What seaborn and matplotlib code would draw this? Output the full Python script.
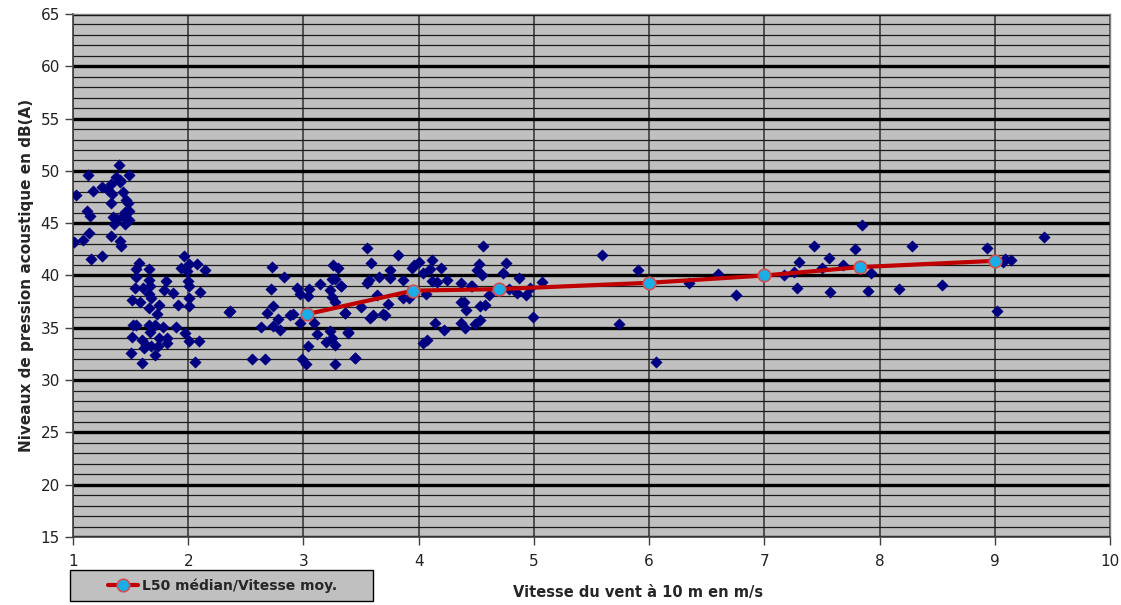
import matplotlib
matplotlib.use("Agg")
from matplotlib import pyplot as plt
from matplotlib.patches import Rectangle
from matplotlib.ticker import MultipleLocator
import numpy as np
import pandas as pd
import seaborn as sns

# wind speed (m/s) / L50 level (dB(A)) of the individual samples
vitesse = [
    1.40, 1.13, 1.49, 1.37, 1.41, 1.41, 1.25, 1.33, 1.30, 1.17, 1.03, 1.34,
    1.43, 1.46, 1.33, 1.48, 1.12, 1.15, 1.45, 1.49, 1.35, 1.38, 1.43, 1.49,
    1.45, 1.36, 1.14, 1.33, 1.09, 1.01, 1.41, 1.42, 1.16, 1.25,
    1.57, 1.96, 1.55, 1.66, 1.94, 2.01, 2.08, 2.15, 1.99, 1.55, 1.66, 1.81,
    2.00, 1.54, 1.61, 1.67, 1.79, 1.87, 2.01, 2.10, 1.51, 1.58, 1.66, 1.68,
    1.75, 1.66, 1.91, 2.01, 2.01, 1.73, 1.52, 1.55, 1.66, 1.71, 1.78, 1.67,
    1.89, 1.51, 1.60, 1.63, 1.68, 1.74, 1.75, 1.82, 1.82, 1.97, 2.01, 2.09,
    1.50, 1.62, 1.71, 1.60, 2.06, 2.35,
    2.73, 2.83, 3.26, 3.30, 3.14, 3.25, 3.27, 3.33, 2.72, 2.94, 2.97, 3.05,
    3.04, 3.23, 3.25, 3.27, 2.74, 2.36, 2.68, 2.91, 2.78, 2.74, 2.63, 2.80,
    2.97, 3.09, 3.36, 3.12, 3.23, 3.39, 3.25, 3.20, 3.27, 3.04, 2.55, 2.67,
    2.99, 3.02, 3.27, 3.45, 2.88,
    3.55, 3.82, 3.59, 3.66, 3.75, 3.75, 3.86, 3.96, 4.00, 3.94, 4.04, 4.10,
    4.12, 4.19, 3.55, 3.57, 3.33, 4.12, 4.16, 4.25, 4.37, 4.45, 3.64, 3.73,
    3.86, 3.92, 4.06, 3.50, 3.36, 3.60, 3.58, 3.69, 3.71, 4.14, 4.37, 4.39,
    4.41, 4.37, 4.40, 4.49, 4.22, 3.39, 4.04, 4.07, 3.45,
    4.56, 4.52, 4.76, 4.51, 4.55, 4.73, 4.87, 4.46, 4.61, 4.78, 4.85, 4.93,
    4.97, 5.07, 4.53, 4.58, 4.99, 4.53,
    5.59, 5.90, 5.74, 6.06, 6.35, 6.60, 6.75, 7.17, 7.26, 7.30, 7.28, 7.43,
    7.50, 7.56, 7.57, 7.68, 7.79, 7.85, 7.90, 7.93, 8.17, 8.28, 8.54, 8.93,
    9.02, 9.07, 9.09, 9.14, 9.43,
]
niveau = [
    50.6, 49.6, 49.6, 49.4, 49.1, 48.9, 48.5, 48.7, 48.2, 48.1, 47.7, 47.8,
    48.0, 47.2, 46.9, 46.9, 46.2, 45.7, 46.1, 46.2, 45.6, 45.4, 45.7, 45.3,
    44.9, 44.9, 44.1, 43.8, 43.4, 43.2, 43.3, 42.8, 41.6, 41.9,
    41.2, 41.9, 40.6, 40.6, 40.7, 41.1, 41.1, 40.5, 40.4, 39.9, 39.6, 39.5,
    39.5, 38.8, 38.8, 39.0, 38.6, 38.3, 39.0, 38.4, 37.7, 37.5, 38.2, 37.8,
    37.2, 36.9, 37.2, 37.8, 37.1, 36.3, 35.3, 35.3, 35.3, 35.3, 35.1, 34.6,
    35.1, 34.1, 33.8, 33.4, 33.3, 33.3, 34.0, 34.0, 33.5, 34.5, 33.7, 33.7,
    32.6, 33.1, 32.4, 31.6, 31.7, 36.5,
    40.8, 39.9, 41.05, 40.7, 39.2, 39.7, 39.7, 39.0, 38.7, 38.8, 38.2, 38.7,
    38.0, 38.6, 37.9, 37.5, 37.1, 36.6, 36.4, 36.3, 35.8, 35.2, 35.1, 34.8,
    35.5, 35.5, 36.4, 34.4, 34.7, 34.6, 34.0, 33.6, 33.4, 33.3, 32.0, 32.0,
    32.0, 31.5, 31.5, 32.1, 36.2,
    42.6, 42.0, 41.2, 39.9, 40.5, 39.8, 39.6, 41.05, 41.3, 40.7, 40.25, 40.6,
    41.5, 40.7, 39.3, 39.6, 39.0, 39.5, 39.4, 39.6, 39.3, 39.0, 38.1, 37.3,
    37.8, 37.8, 38.2, 37.0, 36.4, 36.2, 35.9, 36.3, 36.2, 35.5, 37.5, 37.5,
    36.7, 35.5, 35.0, 35.4, 34.8, 34.5, 33.5, 33.8, 32.1,
    42.8, 41.1, 41.2, 40.5, 40.0, 40.2, 39.8, 39.0, 38.1, 38.7, 38.3, 38.1,
    38.8, 39.4, 37.1, 37.2, 36.0, 35.7,
    42.0, 40.5, 35.4, 31.7, 39.3, 40.1, 38.1, 40.0, 40.3, 41.3, 38.8, 42.8,
    40.7, 41.7, 38.4, 41.0, 42.5, 44.8, 38.5, 40.2, 38.7, 42.8, 39.1, 42.6,
    36.6, 41.3, 41.6, 41.5, 43.7,
]

# median level per wind-speed class
vitesse_moy = [3.03, 3.95, 4.70, 6.00, 7.00, 7.83, 9.00]
l50_median = [36.3, 38.55, 38.7, 39.3, 40.0, 40.8, 41.4]

points = pd.DataFrame({"vitesse": vitesse, "niveau": niveau})
medianes = pd.DataFrame({"vitesse": vitesse_moy, "niveau": l50_median})

sns.set_style("ticks")
plt.rcParams["font.family"] = ["DejaVu Sans"]

fig = plt.figure(figsize=(11.21, 6.05), dpi=100)
ax = fig.add_axes([0.0651, 0.1124, 0.9251, 0.8645])
ax.set_facecolor("#C0C0C0")

sns.scatterplot(data=points, x="vitesse", y="niveau", marker="D", s=34,
                color="#000080", edgecolor="#000080", linewidth=0.3,
                zorder=3, ax=ax, legend=False)
sns.lineplot(data=medianes, x="vitesse", y="niveau", sort=False, estimator=None,
             color="#C00000", linewidth=3, marker="o", markersize=9,
             markerfacecolor="#1AAEE8", markeredgecolor="#D05050",
             markeredgewidth=1.2, zorder=4, ax=ax,
             label="L50 médian/Vitesse moy.")

ax.set_xlim(1, 10)
ax.set_ylim(15, 65)
ax.xaxis.set_major_locator(MultipleLocator(1))
ax.yaxis.set_major_locator(MultipleLocator(5))
ax.yaxis.set_minor_locator(MultipleLocator(1))

ax.grid(which="major", axis="y", color="black", linewidth=2.4, zorder=1)
ax.grid(which="minor", axis="y", color="#1a1a1a", linewidth=0.9, zorder=1)
ax.grid(which="major", axis="x", color="#303030", linewidth=1.1, zorder=1)
ax.set_axisbelow(True)

for side in ["top", "right"]:
    ax.spines[side].set_color("#808080")
    ax.spines[side].set_linewidth(1)
for side in ["left", "bottom"]:
    ax.spines[side].set_color("#404040")
    ax.spines[side].set_linewidth(1.2)

ax.tick_params(axis="both", which="major", direction="out", length=6,
               width=1, color="#404040", labelsize=11, labelcolor="#222222")
ax.tick_params(axis="y", which="minor", length=0)
ax.tick_params(axis="x", pad=6)

ax.set_xlabel("Vitesse du vent à 10 m en m/s", fontsize=10.5, fontweight="bold")
ax.xaxis.set_label_coords(0.545, -0.092)
ax.set_ylabel("Niveaux de pression acoustique en dB(A)", fontsize=11,
              fontweight="bold")
ax.yaxis.set_label_coords(-0.038, 0.5)

# legend: grey box below the plot, content centred inside it
ax.get_legend().remove()
fig.patches.append(Rectangle((0.0624, 0.0066), 0.2703, 0.0512,
                             transform=fig.transFigure, facecolor="#C0C0C0",
                             edgecolor="black", linewidth=1, zorder=0))
handles, labels = ax.get_legend_handles_labels()
fig.legend(handles, labels, loc="center", bbox_to_anchor=(0.1985, 0.0322),
           frameon=False, prop={"weight": "bold", "size": 10},
           handlelength=2.2, handletextpad=0.3, borderpad=0, borderaxespad=0)

fig.savefig("out.png", dpi=100)
